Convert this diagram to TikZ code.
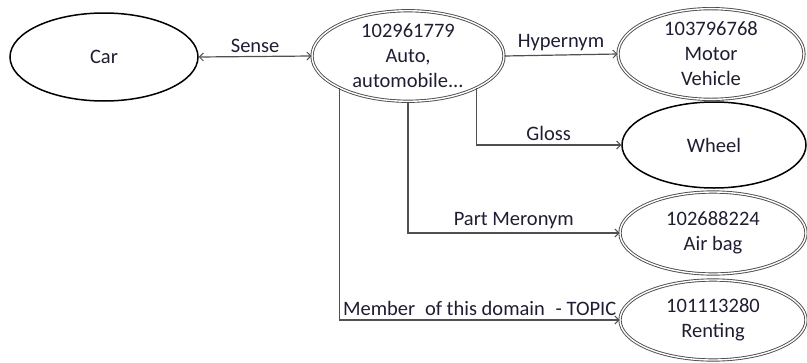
\documentclass[tikz,border=0pt]{standalone}
\usepackage{fontspec}
\setmainfont{Carlito}
\usetikzlibrary{shapes.geometric,arrows.meta}
\definecolor{txt}{RGB}{30,30,50}
\definecolor{ln}{RGB}{80,80,80}
\begin{document}
\begin{tikzpicture}[x=1pt,y=-1pt,
  font=\fontsize{20.5}{25}\selectfont, text=txt,
  single/.style={ellipse, draw=black, line width=1.5pt, inner sep=0pt, align=center},
  dbl/.style={ellipse, draw=black!70, double=white, double distance=1.4pt, line width=0.9pt, inner sep=0pt, align=center},
  tip/.tip={Straight Barb[length=4pt,width=8pt,line width=1pt]},
  conn/.style={draw=ln, line width=1.2pt, -tip},
  lbl/.style={above, inner sep=3.5pt}]
\useasboundingbox (0,0) rectangle (807,362);
\node[single, minimum width=188, minimum height=88] (car) at (104,57) {Car};
\node[dbl, minimum width=192, minimum height=88] (auto) at (408,56) {102961779\\Auto,\\automobile...};
\node[dbl, minimum width=186, minimum height=84] (mv) at (711,54) {103796768\\Motor\\Vehicle};
\node[single, minimum width=184, minimum height=86] (wheel) at (714,145) {Wheel};
\node[dbl, minimum width=186, minimum height=82] (airbag) at (713,233) {102688224\\Air bag};
\node[dbl, minimum width=186, minimum height=80] (rent) at (713,320) {101113280\\Renting};
\draw[conn, tip-tip] (car.east) -- node[lbl] (lsense) {Sense} (auto.west);
\draw[conn] (auto.east) -- node[lbl] (lhyp) {Hypernym} (mv.west);
\draw[conn] (auto.south east) |- node[lbl, pos=0.75] (lgloss) {Gloss} (wheel.west);
\draw[conn] (auto.south) |- node[lbl, pos=0.75] (lpart) {Part Meronym} (airbag.west);
\draw[conn] (auto.south west) |- node[lbl, pos=0.75] (lmem) {Member\hspace{0.25em} of this domain\hspace{0.3em} - TOPIC} (rent.west);
\end{tikzpicture}
\end{document}
